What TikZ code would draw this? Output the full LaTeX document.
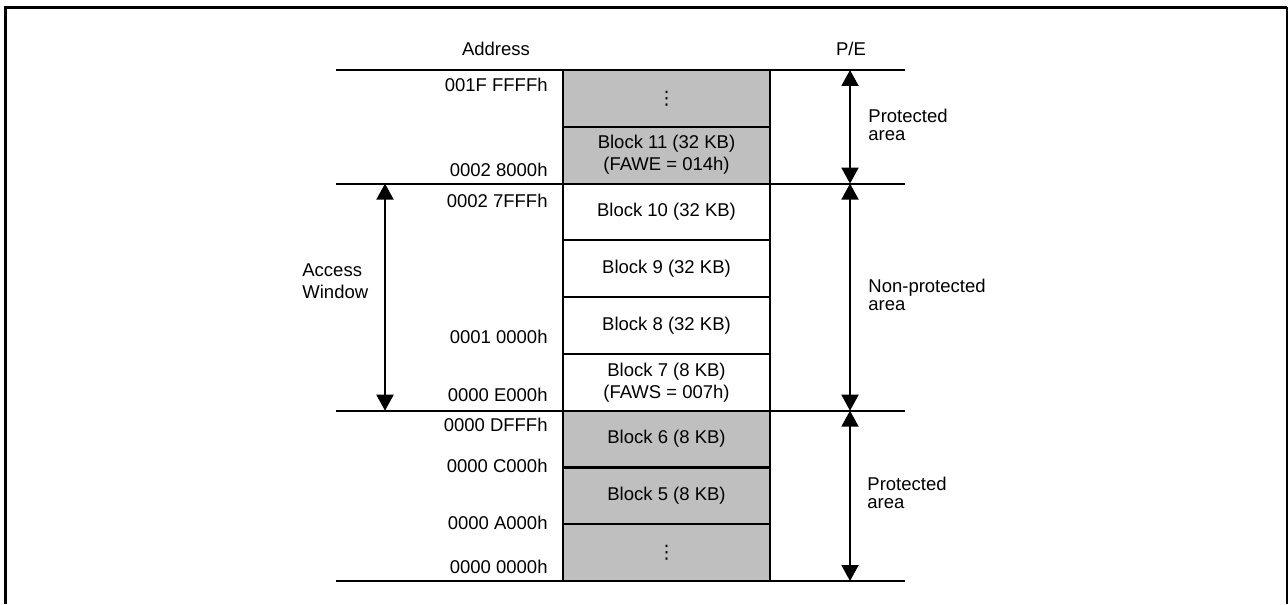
\documentclass[tikz,border=0pt]{standalone}
\usepackage{fontspec}
\setmainfont{Liberation Sans}
\newfontfamily\dotsfont{DejaVu Sans}
\usetikzlibrary{arrows.meta}
\begin{document}
\begin{tikzpicture}[x=0.5pt, y=-0.5pt, >={Triangle[width=8.5pt, length=8pt]},
  font=\fontsize{9.25}{11}\selectfont,
  blk/.style={draw, line width=1pt, minimum width=103.5pt, minimum height=28.39pt, align=center, inner sep=0pt},
  prot/.style={blk, fill=black!25},
  addr/.style={anchor=east, inner sep=0pt},
  side/.style={anchor=west, align=left, inner sep=0pt},
  sep/.style={line width=1pt}]
\useasboundingbox (0,0) rectangle (1288,604);

% frame
\draw[line width=1.5pt] (5.5,604) -- (5.5,7.5) -- (1287,7.5);
\draw[line width=0.6pt] (1287,7.5) -- (1287,604);

% area boundaries
\draw[sep] (336,70) -- (905,70);
\draw[sep] (336,183.6) -- (905,183.6);
\draw[sep] (336,410.7) -- (905,410.7);
\draw[sep] (336,581) -- (905,581);

% blocks
\node[prot] (b12) at (666.5,98.4) {\dotsfont ⋮};
\node[prot] (b11) at (666.5,155.2) {Block 11 (32 KB)\\(FAWE = 014h)};
\node[blk] (b10) at (666.5,212) {Block 10 (32 KB)};
\node[blk] (b9) at (666.5,268.8) {Block 9 (32 KB)};
\node[blk] (b8) at (666.5,325.5) {Block 8 (32 KB)};
\node[blk] (b7) at (666.5,382.3) {Block 7 (8 KB)\\(FAWS = 007h)};
\node[prot] (b6) at (666.5,439.1) {Block 6 (8 KB)};
\node[prot] (b5) at (666.5,495.9) {Block 5 (8 KB)};
\node[prot] (b0) at (666.5,552.6) {\dotsfont ⋮};

% headers
\node (addrhd) at (496,48.5) {Address};
\node (pehd) at (851,48.5) {P/E};

% addresses
\node[addr] (a1ffff) at (548,85) {001F FFFFh};
\node[addr] (a28000) at (548,170) {0002 8000h};
\node[addr] (a27fff) at (548,201) {0002 7FFFh};
\node[addr] (a10000) at (548,337) {0001 0000h};
\node[addr] (ae000) at (548,395) {0000 E000h};
\node[addr] (adfff) at (548,425) {0000 DFFFh};
\node[addr] (ac000) at (548,466) {0000 C000h};
\node[addr] (aa000) at (548,523) {0000 A000h};
\node[addr] (a0000) at (548,567) {0000 0000h};

% arrows
\coordinate (p0) at (850,70);
\coordinate (p1) at (850,183.6);
\coordinate (p2) at (850,410.7);
\coordinate (p3) at (850,581);
\coordinate (w1) at (385,183.6);
\coordinate (w2) at (385,410.7);

\draw[<->, line width=1pt] (p0) -- (p1);
\draw[<->, line width=1pt] (p1) -- (p2);
\draw[<->, line width=1pt] (p2) -- (p3);
\draw[<->, line width=1pt] (w1) -- (w2);

\node[side, font=\fontsize{9.25}{9}\selectfont] (prothi) at (868,125) {Protected\\area};
\node[side, font=\fontsize{9.25}{9}\selectfont] (nonprot) at (868,295) {Non-protected\\area};
\node[side, font=\fontsize{9.25}{9}\selectfont] (protlo) at (867,493) {Protected\\area};
\node[side] (window) at (302,281) {Access\\Window};
\end{tikzpicture}
\end{document}
